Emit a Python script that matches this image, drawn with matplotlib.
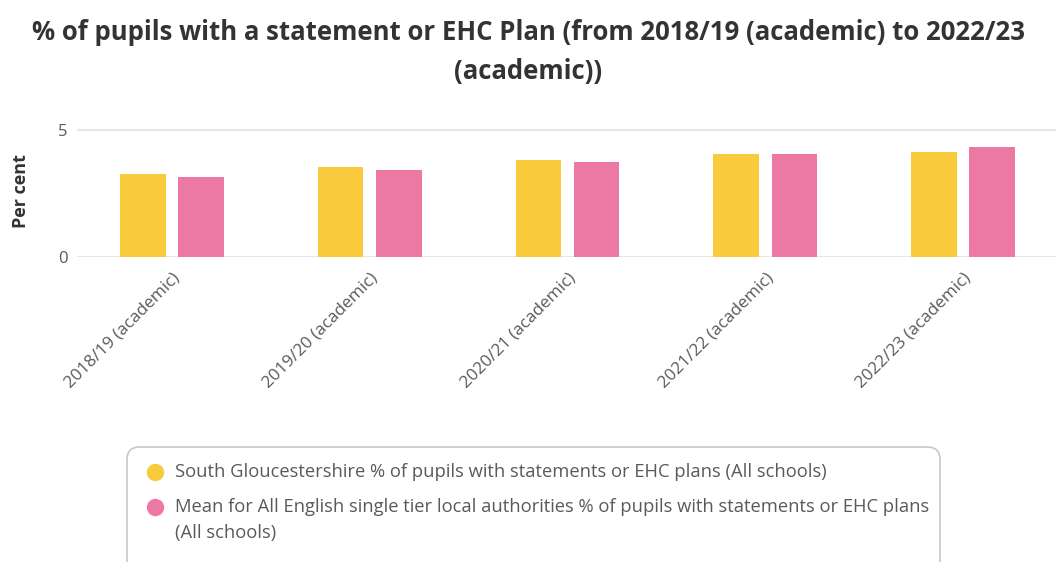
import matplotlib.pyplot as plt
import numpy as np
from matplotlib.lines import Line2D
from matplotlib.patches import FancyBboxPatch

plt.rcParams['font.family'] = ['Open Sans', 'DejaVu Sans']

years = ['2018/19 (academic)', '2019/20 (academic)', '2020/21 (academic)',
         '2021/22 (academic)', '2022/23 (academic)']
south_glos = [3.28, 3.55, 3.84, 4.06, 4.14]
english_mean = [3.15, 3.42, 3.75, 4.06, 4.33]

legend_lines = [
    ['South Gloucestershire % of pupils with statements or EHC plans (All schools)'],
    ['Mean for All English single tier local authorities % of pupils with statements or EHC plans',
     '(All schools)'],
]

yellow = '#F8CA3C'
pink = '#EC78A4'
text_grey = '#5a5a5a'
W, H = 1056, 562

fig = plt.figure(figsize=(W / 100, H / 100), dpi=100)
fig.patch.set_facecolor('white')

ax = fig.add_axes([77 / W, 1 - 257 / H, 1 - 77 / W, 132 / H])
ax.set_facecolor('white')

x = np.arange(len(years))
bar_w = 0.23
off = 0.147
ax.bar(x - off, south_glos, bar_w, color=yellow, zorder=3)
ax.bar(x + off, english_mean, bar_w, color=pink, zorder=3)

ax.set_xlim(-0.48, 4.47)
ax.set_ylim(0, 5.2)
ax.set_yticks([0, 5])
ax.yaxis.grid(True, color='#e6e6e6', linewidth=1.5, zorder=0)
for s in ax.spines.values():
    s.set_visible(False)
ax.tick_params(axis='both', length=0)
ax.tick_params(axis='y', labelsize=12, labelcolor=text_grey, pad=7)

ax.set_xticks(x)
ax.set_xticklabels(years, rotation=45, ha='right', va='top',
                   rotation_mode='anchor', fontsize=12.3, color=text_grey)
ax.tick_params(axis='x', pad=9)

ax.set_ylabel('Per cent', fontsize=13, fontweight='bold', color='#333333', labelpad=20)

fig.text(0.5, 1 - 33 / H, '% of pupils with a statement or EHC Plan (from 2018/19 (academic) to 2022/23',
         ha='center', va='center', fontsize=18.5, fontweight='bold', color='#333333')
fig.text(0.5, 1 - 72 / H, '(academic))',
         ha='center', va='center', fontsize=18.5, fontweight='bold', color='#333333')

# legend box, running off the bottom of the canvas
box = FancyBboxPatch((127 / W, -0.05), (940 - 127) / W, 1 - 447 / H + 0.05,
                     boxstyle='round,pad=0,rounding_size=0.012',
                     transform=fig.transFigure, facecolor='white',
                     edgecolor='#c8c8c8', linewidth=1.2, mutation_aspect=W / H)
fig.add_artist(box)

row_y = [472, 507]
line_gap = 26
for y0, col, lines in zip(row_y, [yellow, pink], legend_lines):
    fig.add_artist(Line2D([155 / W], [1 - y0 / H], marker='o', markersize=11.5,
                          color=col, transform=fig.transFigure))
    for k, line in enumerate(lines):
        fig.text(175 / W, 1 - (y0 + k * line_gap) / H, line, ha='left', va='center',
                 fontsize=13.2, color=text_grey)

fig.savefig('out.png', dpi=100)
